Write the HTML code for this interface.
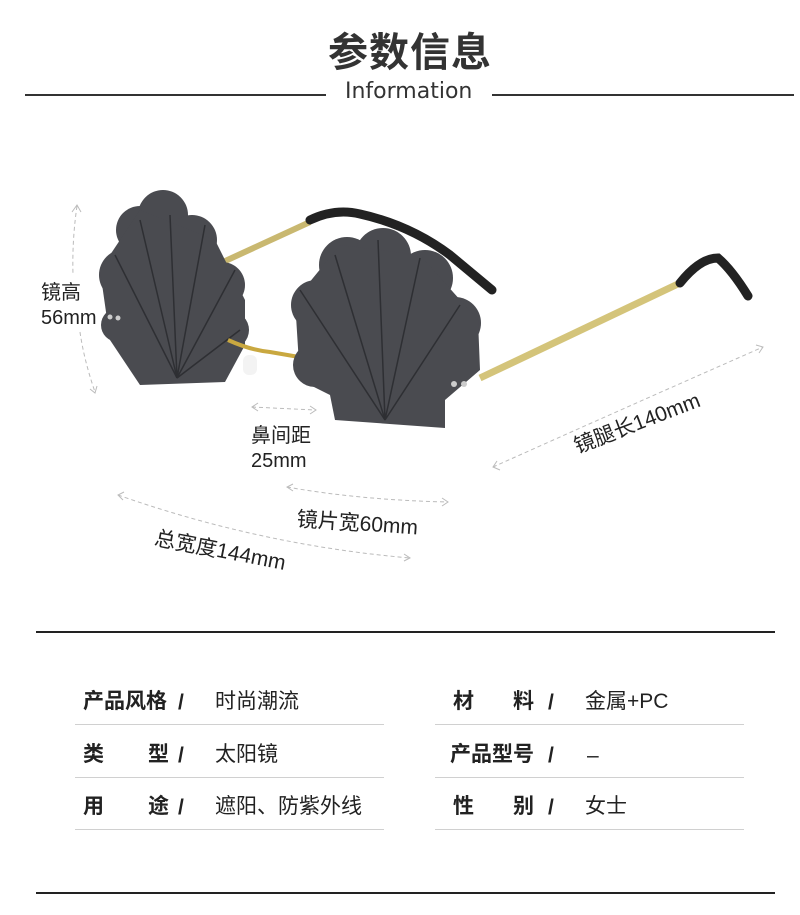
<!DOCTYPE html>
<html><head><meta charset="utf-8"><style>
body{margin:0;width:800px;height:915px;background:#fff;position:relative;overflow:hidden;font-family:"Liberation Sans","Noto Sans CJK SC",sans-serif;color:#222}
.a{position:absolute;white-space:nowrap}
.t{font-size:21px;color:#222}
.b{font-weight:bold}
.hl{position:absolute;height:1px;background:#d0d0d0}
</style></head><body>
<div class="a" style="left:328px;top:20px;font-size:40px;font-weight:bold;color:#333;letter-spacing:1px">参数信息</div>
<div class="a" style="left:345px;top:79px;font-size:22px;font-family:'DejaVu Sans',sans-serif;color:#333">Information</div>
<div style="position:absolute;left:25px;top:94px;width:301px;height:1.5px;background:#333"></div>
<div style="position:absolute;left:492px;top:94px;width:302px;height:1.5px;background:#333"></div>

<svg style="position:absolute;left:0;top:0" width="800" height="600">
<path d="M210 268 L310 222" stroke="#c9b870" stroke-width="6"/>
<path d="M310 220 Q335 208 360 214 Q410 225 450 255 Q480 280 492 290" stroke="#222" stroke-width="9" fill="none" stroke-linecap="round"/>
<path d="M480 378 L680 283" stroke="#d4c47a" stroke-width="7"/>
<path d="M680 283 Q700 258 718 258 Q732 270 748 296" stroke="#222" stroke-width="9" fill="none" stroke-linecap="round"/>
<g fill="#4a4b50">
<circle cx="125" cy="275" r="26"/><circle cx="140" cy="230" r="24"/><circle cx="163" cy="215" r="25"/>
<circle cx="192" cy="240" r="25"/><circle cx="222" cy="285" r="23"/><circle cx="230" cy="330" r="19"/>
<circle cx="118" cy="325" r="17"/>
<polygon points="100,270 140,210 215,240 245,300 245,345 225,382 140,385 110,340"/>
</g>
<g stroke="#2e2f33" stroke-width="1.5">
<line x1="177" y1="378" x2="115" y2="255"/><line x1="177" y1="378" x2="140" y2="220"/>
<line x1="177" y1="378" x2="170" y2="215"/><line x1="177" y1="378" x2="205" y2="225"/>
<line x1="177" y1="378" x2="235" y2="270"/><line x1="177" y1="378" x2="240" y2="330"/>
</g>
<circle cx="110" cy="317" r="2.5" fill="#ccc"/><circle cx="118" cy="318" r="2.5" fill="#ccc"/>
<path d="M228 340 Q250 350 270 352 L305 358" stroke="#c9a840" stroke-width="4" fill="none"/>
<rect x="243" y="355" width="14" height="20" rx="6" fill="#f3f3f3"/>
<g fill="#4a4b50">
<circle cx="316" cy="305" r="25"/><circle cx="347" cy="265" r="28"/><circle cx="383" cy="256" r="28"/>
<circle cx="425" cy="278" r="28"/><circle cx="455" cy="323" r="26"/><circle cx="315" cy="365" r="22"/>
<polygon points="295,300 340,245 420,255 478,320 480,370 445,400 445,428 335,420 330,395 300,380"/>
</g>
<g stroke="#2e2f33" stroke-width="1.5">
<line x1="385" y1="420" x2="300" y2="290"/><line x1="385" y1="420" x2="335" y2="255"/>
<line x1="385" y1="420" x2="378" y2="240"/><line x1="385" y1="420" x2="420" y2="258"/>
<line x1="385" y1="420" x2="460" y2="305"/>
</g>
<circle cx="454" cy="384" r="3" fill="#ccc"/><circle cx="464" cy="384" r="3" fill="#ccc"/>
<g stroke="#bbb" stroke-width="1" stroke-dasharray="4,3" fill="none">
<path d="M77 206 Q72 240 73 275"/><path d="M80 332 Q84 360 95 392"/>
<path d="M252 407 L315 410"/>
<path d="M493 467 Q620 410 763 347"/>
<path d="M287 487 Q360 500 448 502"/>
<path d="M118 495 Q260 545 410 558"/>
</g>
<g stroke="#bbb" stroke-width="1" fill="none">
<path d="M72 212 L77 205 L81 212"/><path d="M90 389 L95 393 L97 386"/>
<path d="M258 403 L252 407 L258 411"/><path d="M310 406 L316 410 L310 414"/>
<path d="M500 470 L493 467 L497 461"/><path d="M756 345 L763 347 L759 353"/>
<path d="M293 484 L287 487 L293 491"/><path d="M442 498 L448 502 L442 506"/>
<path d="M124 492 L118 495 L123 500"/><path d="M404 554 L410 558 L404 561"/>
</g>
</svg>
<div class="a t" style="left:41px;top:281px;font-size:20px;line-height:25px">镜高<br>56mm</div>
<div class="a t" style="left:251px;top:424px;font-size:20px;line-height:25px">鼻间距<br>25mm</div>
<div class="a t" style="left:580px;top:430px;font-size:21px;transform:rotate(-21deg);transform-origin:0 100%">镜腿长140mm</div>
<div class="a t" style="left:298px;top:503px;font-size:21px;transform:rotate(4deg);transform-origin:0 0">镜片宽60mm</div>
<div class="a t" style="left:158px;top:522px;font-size:21px;transform:rotate(11deg);transform-origin:0 0">总宽度144mm</div>

<div style="position:absolute;left:36px;top:631px;width:739px;height:2px;background:#222"></div>
<div style="position:absolute;left:36px;top:892px;width:739px;height:2px;background:#222"></div>

<div class="a t b" style="left:83px;top:685px">产品风格</div>
<div class="a t b" style="left:83px;top:738px">类</div><div class="a t b" style="left:148px;top:738px">型</div>
<div class="a t b" style="left:83px;top:790px">用</div><div class="a t b" style="left:148px;top:790px">途</div>
<div class="a t b" style="left:178px;top:691px">/</div><div class="a t b" style="left:178px;top:744px">/</div><div class="a t b" style="left:178px;top:796px">/</div>
<div class="a t" style="left:215px;top:685px">时尚潮流</div>
<div class="a t" style="left:215px;top:738px">太阳镜</div>
<div class="a t" style="left:215px;top:790px">遮阳、防紫外线</div>
<div class="a t b" style="left:453px;top:685px">材</div><div class="a t b" style="left:513px;top:685px">料</div>
<div class="a t b" style="left:450px;top:738px">产品型号</div>
<div class="a t b" style="left:453px;top:790px">性</div><div class="a t b" style="left:513px;top:790px">别</div>
<div class="a t b" style="left:548px;top:691px">/</div><div class="a t b" style="left:548px;top:744px">/</div><div class="a t b" style="left:548px;top:796px">/</div>
<div class="a t" style="left:585px;top:685px">金属+PC</div>
<div class="a t" style="left:587px;top:744px">–</div>
<div class="a t" style="left:585px;top:790px">女士</div>
<div class="hl" style="left:75px;top:724px;width:309px"></div>
<div class="hl" style="left:75px;top:777px;width:309px"></div>
<div class="hl" style="left:75px;top:829px;width:309px"></div>
<div class="hl" style="left:435px;top:724px;width:309px"></div>
<div class="hl" style="left:435px;top:777px;width:309px"></div>
<div class="hl" style="left:435px;top:829px;width:309px"></div>
</body></html>
